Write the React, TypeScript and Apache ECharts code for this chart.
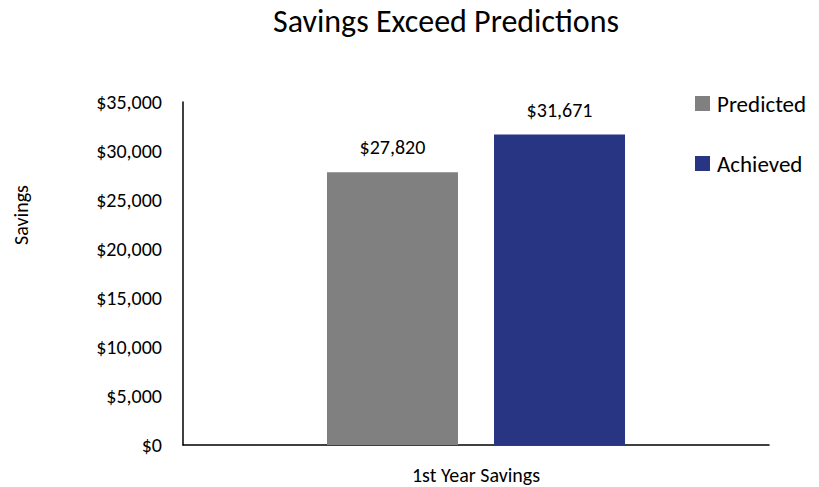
import React, { useEffect, useRef } from "react";
import * as echarts from "echarts";

const categories = ["1st Year Savings"];
const predicted = [27820];
const achieved = [31671];
const seriesNames = ["Predicted", "Achieved"];
const yTickMin = 0;
const yTickMax = 35000;
const yTickStep = 5000;
const FONT = "Carlito, Calibri, Lato, 'Open Sans', sans-serif";

const fmt = (v: number) => "$" + v.toLocaleString("en-US");

export default function App() {
  const ref = useRef<HTMLDivElement>(null);
  useEffect(() => {
    if (!ref.current) return;
    const chart = echarts.init(ref.current, undefined, { renderer: "svg" });
    const labelStyle = {
      show: true,
      position: "top",
      distance: 15,
      fontFamily: FONT,
      fontSize: 20,
      color: "#000",
      formatter: (p: any) => fmt(p.value),
    };
    chart.setOption({
      animation: false,
      backgroundColor: "#ffffff",
      textStyle: { fontFamily: FONT },
      title: {
        text: "Savings Exceed Predictions",
        left: 446,
        top: 5,
        padding: 0,
        textAlign: "center",
        textStyle: { fontFamily: FONT, fontSize: 32, fontWeight: "normal", color: "#000", lineHeight: 32 },
      },
      legend: {
        orient: "vertical",
        left: 695,
        top: 92,
        padding: 0,
        itemWidth: 15,
        itemHeight: 15,
        itemGap: 37,
        icon: "rect",
        data: seriesNames,
        textStyle: { fontFamily: FONT, fontSize: 23, color: "#000", padding: [0, 0, 0, 2] },
      },
      grid: { left: 183, right: 50, top: 102, bottom: 42 },
      xAxis: {
        type: "category",
        data: categories,
        axisLine: { show: true, lineStyle: { color: "#000", width: 1.5 } },
        axisTick: { show: false },
        axisLabel: { fontFamily: FONT, fontSize: 20, color: "#000", margin: 20 },
      },
      yAxis: {
        type: "value",
        min: yTickMin,
        max: yTickMax,
        interval: yTickStep,
        axisLine: { show: true, lineStyle: { color: "#000", width: 1.5 } },
        axisTick: { show: false },
        splitLine: { show: false },
        axisLabel: {
          fontFamily: FONT,
          fontSize: 20,
          color: "#000",
          margin: 21,
          formatter: (v: number) => fmt(v),
        },
      },
      graphic: [
        {
          type: "text",
          x: 21,
          y: 215,
          rotation: Math.PI / 2,
          style: {
            text: "Savings",
            fontFamily: FONT,
            fontSize: 20,
            fill: "#000",
            textAlign: "center",
            textVerticalAlign: "middle",
          },
        },
      ],
      series: [
        {
          name: seriesNames[0],
          type: "bar",
          data: predicted,
          barWidth: 131,
          barGap: "27.5%",
          itemStyle: { color: "#808080" },
          label: labelStyle,
        },
        {
          name: seriesNames[1],
          type: "bar",
          data: achieved,
          barWidth: 131,
          itemStyle: { color: "#283582" },
          label: labelStyle,
        },
      ],
    });
    return () => chart.dispose();
  }, []);
  return (
    <div
      ref={ref}
      style={{ position: "fixed", left: 0, top: 0, width: 819, height: 487 }}
    />
  );
}
